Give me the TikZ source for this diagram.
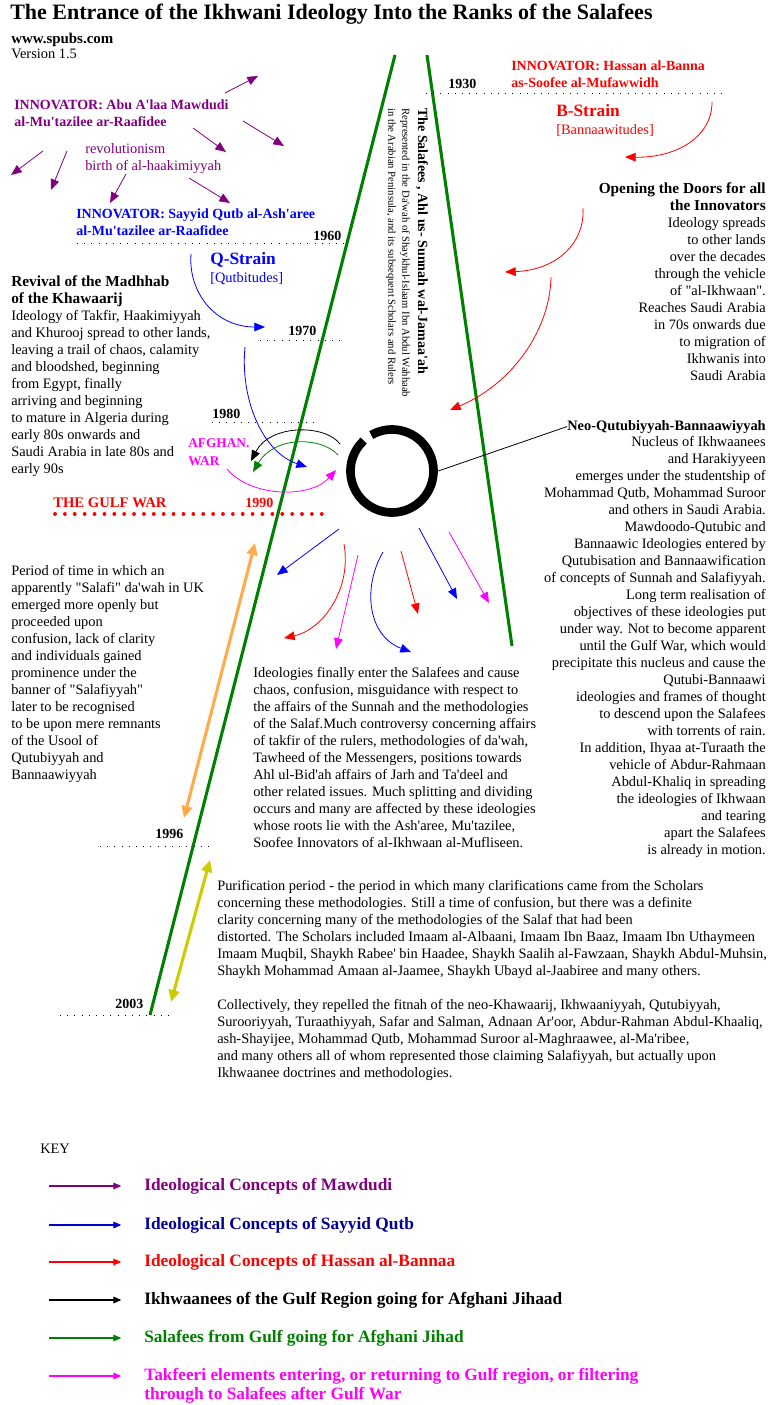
\documentclass[tikz,border=0pt]{standalone}
\usepackage{fontspec}
\newfontfamily\diagfont{Liberation Serif}
\newcommand{\fz}[2]{\diagfont\fontsize{#1}{#2}\selectfont}
\usetikzlibrary{arrows.meta,positioning,calc}

\definecolor{mawdudi}{HTML}{800080}
\definecolor{qutb}{HTML}{0000FF}
\definecolor{navyqutb}{HTML}{000099}
\definecolor{banna}{HTML}{FF0000}
\definecolor{salafi}{HTML}{008000}
\definecolor{takfeeri}{HTML}{FF00FF}
\definecolor{ukperiod}{HTML}{FFAA4C}
\definecolor{purify}{HTML}{CCCC00}

\begin{document}
\begin{tikzpicture}[x=0.75pt, y=-0.75pt,
    body/.style={font=\fz{10.8}{12.75}, align=left, inner sep=0pt, anchor=north west},
    bodyr/.style={body, align=right, anchor=north east},
    head/.style={font=\fz{10.8}{12.75}\bfseries, align=left, inner sep=0pt, anchor=base west},
    innov/.style={font=\fz{10.5}{12.75}\bfseries, align=left, inner sep=0pt, anchor=north west},
    strain/.style={font=\fz{13}{15}\bfseries, inner sep=0pt, anchor=base west},
    yearlbl/.style={font=\fz{10.5}{12}\bfseries, inner sep=0pt, anchor=base west},
    yearline/.style={line width=0.75pt, dash pattern=on 0.75pt off 4.65pt},
    spine/.style={draw=salafi, line width=2.3pt},
    thinarr/.style={-{Triangle[length=8pt,width=6.5pt]}, line width=0.6pt},
    dbl/.style={{Triangle[length=9pt,width=8pt]}-{Triangle[length=9pt,width=8pt]}, line width=2.3pt},
    keyarr/.style={-{Triangle[length=6pt,width=5pt]}, line width=0.8pt},
    keylbl/.style={font=\fz{13}{14.25}\bfseries, inner sep=0pt, anchor=west}
  ]
  \fill[white] (0,0) rectangle (771,1405);
  \useasboundingbox (0,0) rectangle (771,1405);

  % title block
  \node[font=\fz{16.5}{18}\bfseries, inner sep=0pt, anchor=base west] (title) at (10,20) {The Entrance of the Ikhwani Ideology Into the Ranks of the Salafees};
  \node[head, font=\fz{11.2}{12.75}\bfseries] (site) at (11,44) {www.spubs.com};
  \node[body, anchor=base west] (version) at (11,59) {Version 1.5};

  % the two lines of the Salafees
  \draw[spine] (395,55) -- (150,1015);
  \draw[spine] (427,55) -- (512,646);
  \node[font=\fz{10.5}{12}\bfseries, rotate=-90, anchor=west, inner sep=0pt] (salafees) at (422,108) {The Salafees , Ahl us- Sunnah wal-Jamaa'ah};
  \node[font=\fz{8}{9}, rotate=-90, anchor=west, inner sep=0pt] (dawah) at (405,108) {Represented in the Da'wah of Shaykhul-Islaam Ibn Abdul Wahhaab};
  \node[font=\fz{8}{9}, rotate=-90, anchor=west, inner sep=0pt] (scholars) at (391,108) {in the Arabian Peninsula, and its subsequent Scholars and Rulers};

  % years
  \draw[yearline] (426,94) -- (722,94);
  \node[yearlbl] (y1930) at (448,89) {1930};
  \draw[yearline] (77,244) -- (345,244);
  \node[yearlbl] (y1960) at (313,240) {1960};
  \draw[yearline] (260,340) -- (340,340);
  \node[yearlbl] (y1970) at (288,335) {1970};
  \draw[yearline] (212,422) -- (317,422);
  \node[yearlbl] (y1980) at (212,418) {1980};
  \draw[banna, line width=2.8pt, line cap=round, dash pattern=on 0.01pt off 7.4pt] (55,514) -- (330,514);
  \node[yearlbl, text=banna, font=\fz{11}{12}\bfseries] (gulfwar) at (53,507) {THE GULF WAR};
  \node[yearlbl, text=banna] (y1990) at (245,507) {1990};
  \draw[yearline] (100,846) -- (211,846);
  \node[yearlbl] (y1996) at (155,838) {1996};
  \draw[yearline] (60,1015) -- (171,1015);
  \node[yearlbl] (y2003) at (115,1008) {2003};

  % Mawdudi
  \node[innov, text=mawdudi] (mawdudi) at (14,100) {INNOVATOR: Abu A'laa Mawdudi\\al-Mu'tazilee ar-Raafidee};
  \node[body, text=mawdudi] (revolution) at (85,143) {revolutionism\\birth of al-haakimiyyah};
  \draw[thinarr, mawdudi] (225,93) -- (258,76);
  \draw[thinarr, mawdudi] (243,121) -- (284,146);
  \draw[thinarr, mawdudi] (193,128) -- (226,152);
  \draw[thinarr, mawdudi] (43,151) -- (11,175);
  \draw[thinarr, mawdudi] (67,151) -- (51,190);
  \draw[thinarr, mawdudi] (126,174) -- (110,203);
  \draw[thinarr, mawdudi] (189,178) -- (230,203);

  % Qutb
  \node[innov, text=qutb] (qutb) at (76,209) {INNOVATOR: Sayyid Qutb al-Ash'aree\\al-Mu'tazilee ar-Raafidee};
  \node[strain, text=qutb] (qstrain) at (210,264) {Q-Strain};
  \node[body, text=qutb] (qbits) at (210,272) {[Qutbitudes]};
  \draw[thinarr, qutb] (191,254) .. controls (188,292) and (215,327) .. (265,327);
  \draw[thinarr, qutb] (245,347) .. controls (240,398) and (262,452) .. (307,467);

  % Banna
  \node[innov, text=banna] (banna) at (511,61) {INNOVATOR: Hassan al-Banna\\as-Soofee al-Mufawwidh};
  \node[strain, text=banna] (bstrain) at (556,117) {B-Strain};
  \node[body, text=banna] (bbits) at (556,124) {[Bannaawitudes]};
  \draw[thinarr, banna] (712,102) .. controls (712,138) and (675,158) .. (625,157);
  \draw[thinarr, banna] (583,208) .. controls (585,242) and (558,270) .. (505,272);
  \draw[thinarr, banna] (551,277) .. controls (550,332) and (510,385) .. (450,410);

  \node[bodyr] (opening) at (766,182) {{\fontsize{11.5}{12.75}\selectfont\bfseries Opening the Doors for all}\\{\fontsize{11.5}{12.75}\selectfont\bfseries the Innovators}\\Ideology spreads\\to other lands\\over the decades\\through the vehicle\\of "al-Ikhwaan".\\Reaches Saudi Arabia\\in 70s onwards due\\to migration of\\Ikhwanis into\\Saudi Arabia};

  % Khawaarij
  \node[body] (khawaarij) at (11,275) {{\fontsize{11.5}{12.75}\selectfont\bfseries Revival of the Madhhab}\\{\fontsize{11.5}{12.75}\selectfont\bfseries of the Khawaarij}\\Ideology of Takfir, Haakimiyyah\\and Khurooj spread to other lands,\\leaving a trail of chaos, calamity\\and bloodshed, beginning\\from Egypt, finally\\arriving and beginning\\to mature in Algeria during\\early 80s onwards and\\Saudi Arabia in late 80s and\\early 90s};

  % Afghan war
  \node[innov, text=takfeeri, font=\fz{10}{13.5}\bfseries] (afghan) at (188,438) {AFGHAN.\\WAR};
  \draw[thinarr, black] (340,444) .. controls (325,424) and (270,424) .. (251,461);
  \draw[thinarr, salafi] (338,455) .. controls (322,437) and (275,435) .. (253,472);
  \draw[thinarr, takfeeri] (227,469) .. controls (250,497) and (310,499) .. (336,470);

  % nucleus
  \node[circle, minimum size=69pt, inner sep=0pt] (nucleus) at (392,471) {};
  \draw[line width=6.5pt] (nucleus.center) ++(-120:41.5) arc[start angle=-120, end angle=227, radius=41.5];
  \node[head] (neo) [anchor=base east] at (766,430) {Neo-Qutubiyyah-Bannaawiyyah};
  \draw[line width=0.6pt] (nucleus.east) -- (neo.west);
  \node[bodyr] (neotext) at (766,436) {Nucleus of Ikhwaanees\\and Harakiyyeen\\emerges under the studentship of\\Mohammad Qutb, Mohammad Suroor\\and others in Saudi Arabia.\\Mawdoodo-Qutubic and\\Bannaawic Ideologies entered by\\Qutubisation and Bannaawification\\of concepts of Sunnah and Salafiyyah.\\Long term realisation of\\objectives of these ideologies put\\under way.  Not to become apparent\\until the Gulf War, which would\\precipitate this nucleus and cause the\\Qutubi-Bannaawi\\ideologies and frames of thought\\to descend upon the Salafees\\with torrents of rain.\\In addition, Ihyaa at-Turaath the\\vehicle of Abdur-Rahmaan\\Abdul-Khaliq in spreading\\the ideologies of Ikhwaan\\and tearing\\apart the Salafees\\is already in motion.};

  % after the Gulf War
  \draw[thinarr, qutb] (339,529) -- (277,575);
  \draw[thinarr, banna] (344,544) .. controls (352,590) and (322,630) .. (284,638);
  \draw[thinarr, takfeeri] (358,555) -- (336,649);
  \draw[thinarr, qutb] (383,552) .. controls (362,588) and (368,636) .. (411,652);
  \draw[thinarr, banna] (401,551) -- (418,614);
  \draw[thinarr, qutb] (419,528) -- (457,599);
  \draw[thinarr, takfeeri] (449,532) -- (489,603);

  \node[body] (period) at (11,565) {Period of time in which an\\apparently "Salafi" da'wah in UK\\emerged more openly but\\proceeded upon\\confusion, lack of clarity\\and individuals gained\\prominence under the\\banner of "Salafiyyah"\\later to be recognised\\to be upon mere remnants\\of the Usool of\\Qutubiyyah and\\Bannaawiyyah};
  \draw[dbl, ukperiod] (255,543) -- (184,818);

  \node[body] (ideologies) at (253,667) {Ideologies finally enter the Salafees and cause\\chaos, confusion, misguidance with respect to\\the affairs of the Sunnah and the methodologies\\of the Salaf.Much controversy concerning affairs\\of takfir of the rulers, methodologies of da'wah,\\Tawheed of the Messengers, positions towards\\Ahl ul-Bid'ah affairs of Jarh and Ta'deel and\\other related issues.  Much splitting and dividing\\occurs and many are affected by these ideologies\\whose roots lie with the Ash'aree, Mu'tazilee,\\Soofee Innovators of al-Ikhwaan al-Mufliseen.};

  % purification
  \draw[dbl, purify] (210,860) -- (171,1002);
  \node[body] (purification) at (217,880) {Purification period - the period in which many clarifications came from the Scholars\\concerning these methodologies. Still a time of confusion, but there was a definite\\clarity concerning many of the methodologies of the Salaf that had been\\distorted. The Scholars included Imaam al-Albaani, Imaam Ibn Baaz, Imaam Ibn Uthaymeen\\Imaam Muqbil, Shaykh Rabee' bin Haadee, Shaykh Saalih al-Fawzaan, Shaykh Abdul-Muhsin,\\Shaykh Mohammad Amaan al-Jaamee, Shaykh Ubayd al-Jaabiree and many others.\\[12.75pt]Collectively, they repelled the fitnah of the neo-Khawaarij, Ikhwaaniyyah, Qutubiyyah,\\Surooriyyah, Turaathiyyah, Safar and Salman, Adnaan Ar'oor, Abdur-Rahman Abdul-Khaaliq,\\ash-Shayijee, Mohammad Qutb, Mohammad Suroor al-Maghraawee, al-Ma'ribee,\\and many others all of whom represented those claiming Salafiyyah, but actually upon\\Ikhwaanee doctrines and methodologies.};

  % key
  \node[body, anchor=base west] (key) at (40,1153) {KEY};
  \node[keylbl, text=mawdudi] (keyA) at (144,1186) {Ideological Concepts of Mawdudi};
  \node[keylbl, text=navyqutb] (keyB) at (144,1225) {Ideological Concepts of Sayyid Qutb};
  \node[keylbl, text=banna] (keyC) at (144,1262) {Ideological Concepts of Hassan al-Bannaa};
  \node[keylbl, text=black] (keyD) at (144,1300) {Ikhwaanees of the Gulf Region going for Afghani Jihaad};
  \node[keylbl, text=salafi] (keyE) at (144,1338) {Salafees from Gulf going for Afghani Jihad};
  \node[keylbl, text=takfeeri] (keyF) at (144,1376) {Takfeeri elements entering, or returning to Gulf region, or filtering};
  \node[keylbl, text=takfeeri] (keyF2) at (144,1395) {through to Salafees after Gulf War};
  \draw[keyarr, mawdudi] ([xshift=-71pt]keyA.west) -- ([xshift=-17pt]keyA.west);
  \draw[keyarr, qutb!80!black] ([xshift=-71pt]keyB.west) -- ([xshift=-17pt]keyB.west);
  \draw[keyarr, banna] ([xshift=-71pt]keyC.west) -- ([xshift=-17pt]keyC.west);
  \draw[keyarr, black] ([xshift=-71pt]keyD.west) -- ([xshift=-17pt]keyD.west);
  \draw[keyarr, salafi] ([xshift=-71pt]keyE.west) -- ([xshift=-17pt]keyE.west);
  \draw[keyarr, takfeeri] ([xshift=-71pt]keyF.west) -- ([xshift=-17pt]keyF.west);
\end{tikzpicture}
\end{document}
